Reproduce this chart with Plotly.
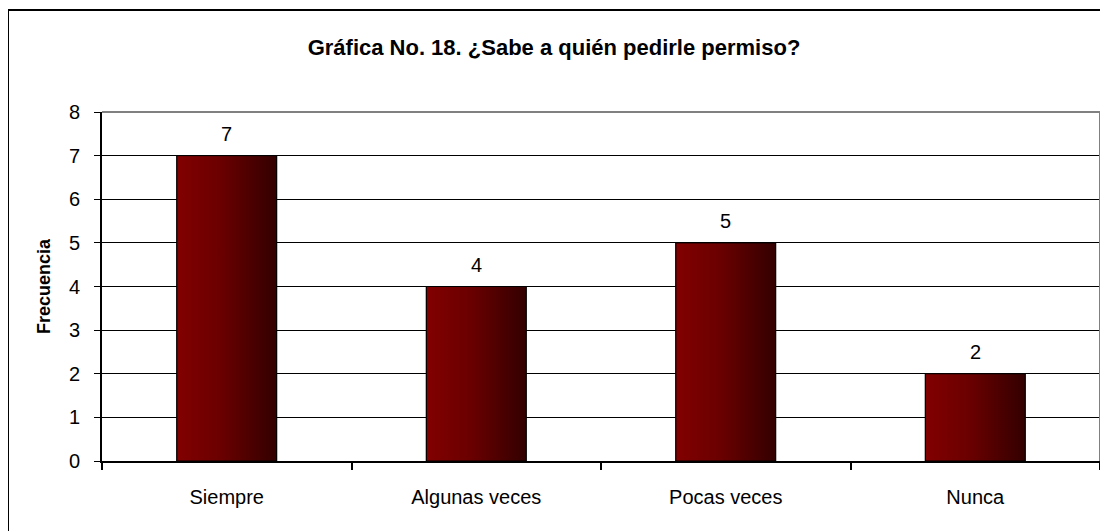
import plotly.graph_objects as go

categories = ["Siempre", "Algunas veces", "Pocas veces", "Nunca"]
values = [7, 4, 5, 2]
y_ticks = [0, 1, 2, 3, 4, 5, 6, 7, 8]
title_text = "Gráfica No. 18. ¿Sabe a quién pedirle permiso?"
y_title = "Frecuencia"

BAR_W = 0.4
FONT = "Liberation Sans, Arial, sans-serif"
# page body has an 8px margin, so the figure is drawn 8px smaller and shifted
W, H = 1100, 523
ML, MR, MT, MB = 94, 8, 104, 70
PW, PH = W - ML - MR, H - MT - MB

xs = list(range(len(categories)))
fig = go.Figure()

fig.add_trace(go.Bar(x=xs, y=values, width=BAR_W, marker=dict(color="#5a0000", line=dict(color="black", width=1)),
                     hoverinfo="skip", showlegend=False))

for xi, v in zip(xs, values):
    x0, x1 = xi - BAR_W / 2, xi + BAR_W / 2
    fig.add_trace(go.Scatter(
        x=[x0, x1, x1, x0, x0], y=[0, 0, v, v, 0], mode="lines", fill="toself",
        fillgradient=dict(type="horizontal", colorscale=[[0, "#820000"], [0.45, "#6a0000"], [1, "#330000"]]),
        line=dict(color="black", width=1), showlegend=False, hoverinfo="skip"))
    fig.add_annotation(x=xi, y=v, text=str(v), showarrow=False, yanchor="bottom", yshift=9,
                       font=dict(family=FONT, size=20, color="black"))

fig.update_layout(
    width=W, height=H, autosize=False,
    margin=dict(l=ML, r=MR, t=MT, b=MB),
    paper_bgcolor="white", plot_bgcolor="white",
    font=dict(family=FONT, size=20, color="black"),
    title=dict(text=f"<b>{title_text}</b>", x=(554 - 8) / W, xanchor="center", xref="container",
               y=1 - 39 / H, yanchor="middle", yref="container", font=dict(size=22, family=FONT)),
    showlegend=False,
)
fig.update_xaxes(range=[-0.5, len(categories) - 0.5], tickmode="array", tickvals=xs, ticktext=categories,
                 ticks="", showgrid=False, zeroline=False, showline=True, linecolor="black", linewidth=2,
                 ticklabelstandoff=17, tickfont=dict(size=20),
                 minor=dict(tickmode="array", tickvals=[i - 0.5 for i in range(len(categories) + 1)],
                            ticks="outside", ticklen=7, tickcolor="black", tickwidth=2, showgrid=False))
fig.update_yaxes(range=[0, 8], tickmode="array", tickvals=y_ticks, ticks="outside", ticklen=6,
                 tickcolor="black", tickwidth=1, showgrid=True, gridcolor="black", gridwidth=1,
                 zeroline=False, showline=True, linecolor="black", linewidth=2,
                 ticklabelstandoff=10, tickfont=dict(size=20),
                 title=dict(text=f"<b>{y_title}</b>", font=dict(size=18), standoff=14))

# gray plot border (top and right)
fig.add_shape(type="line", xref="paper", yref="paper", x0=0, x1=1, y0=1, y1=1, line=dict(color="#808080", width=2))
fig.add_shape(type="line", xref="paper", yref="paper", x0=1, x1=1, y0=0, y1=1, line=dict(color="#808080", width=2))
# outer chart border
fig.add_shape(type="rect", xref="paper", yref="paper",
              x0=(0 - ML) / PW, x1=(W + 10 - ML) / PW,
              y0=-(MB + 10) / PH, y1=1 + (MT - 2) / PH,
              line=dict(color="black", width=2), fillcolor="rgba(0,0,0,0)", layer="above")

fig.write_html("out.html")
